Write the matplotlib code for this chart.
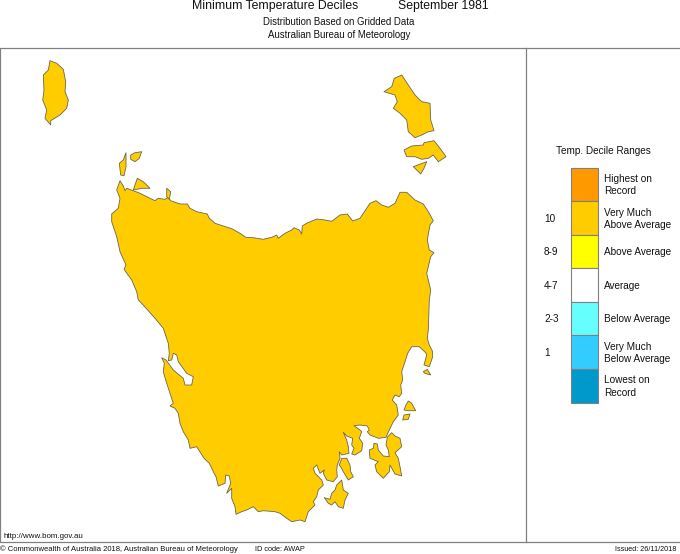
import matplotlib
matplotlib.use('Agg')
import matplotlib.pyplot as plt

plt.rcParams['font.family'] = ['Liberation Sans', 'DejaVu Sans']

# coastlines (map units = picture pixels)
tasmania = [(120,180.7),(123.3,186),(125,190.7),(126.7,188.3),(133.3,190.7),(140,193.3),(146.7,196.7),(155,200.7),
    (158.3,198.3),(165,199.3),(168.3,197.3),(170.7,200.7),(180,204),(187.3,204),(190,208.3),(196.7,211.7),(207.3,214),
    (209.3,218.3),(215,223.3),(223.3,226),(231.7,228.7),(240,233.3),(245.7,237.3),(253.3,237.7),(263.3,239.3),
    (271.7,237.3),(276.7,235),(278.3,238.3),(285,233.3),(291.7,230),(294,227.7),(299.3,230),(301.7,234),(302.3,226),
    (306.7,223.3),(316.7,219),(325,220),(331.7,221.3),(340,215),(347.3,214),(352.7,221),(360,218.3),(370,203.3),
    (376,200.7),(381.7,205),(388.3,207.3),(395,203.3),(400,192.3),(406.7,192.3),(415,200),(423.3,204),(428.3,211.7),
    (433.3,220.7),(430,225),(427.3,240),(429.3,250),(434,252.7),(430.7,256.7),(426.7,273.3),(430.7,290),(429.3,300),
    (428.3,330),(427.3,338.3),(429.3,345),(432.3,350.7),(432.7,356.7),(429.3,366.7),(424,365),(426.7,355),(425.7,352.7),
    (419.3,346.7),(411.7,346.7),(407.7,353.3),(405,361.7),(401.7,371.7),(402.7,380),(400.7,385),(401.7,393.3),
    (399.3,396.7),(395,395),(392.3,400),(396.7,405),(398.3,415),(393.3,421.7),(389.3,430),(386,437.3),(378.3,438.3),
    (370,435),(367.3,431.7),(369.3,430),(367.3,426),(360,425),(354,425.7),(360,430),(361.7,431.7),(359.3,438.3),
    (362.7,443.3),(361.7,450.7),(355,455),(351.7,454),(354,448.3),(351.7,445),(352.7,438.3),(346.7,436),(343.3,432.3),
    (346.7,440),(348.3,446.7),(349,453.3),(341.7,455),(339.3,451.7),(340,458.3),(337.3,465),(336.7,470),(337.3,476.7),
    (333.3,481.7),(326.7,480),(323.3,473.3),(324.3,470),(320,473.3),(316.7,465),(313.3,468.3),(315,473.3),(321.7,480),
    (323.3,485),(318.3,490),(316.7,496.7),(313.3,501.7),(315,505),(308.3,511.7),(305,521.7),(300,520),(291.7,521.7),
    (286.7,518.3),(280,513.3),(275,511.7),(263.3,510.7),(258.3,511.7),(253.3,506.7),(246.7,510),(241.7,511.7),
    (236,514.3),(235,506.7),(231.7,498.3),(231.7,488.3),(226.7,493.3),(230.7,483.3),(229.3,476),(225.7,475),(225,483.3),
    (218.3,486),(216,476.7),(213.3,471.7),(209.3,463.3),(204,458.3),(196.7,446.7),(190,448.3),(188.3,440),(183.3,431.7),
    (180,423.3),(178.3,413.3),(175,408.3),(170,406),(173.3,403.3),(170,393.3),(166.7,383.3),(163.3,371.7),(164.3,363.3),
    (161.7,357.7),(166,360),(173.3,370),(183.3,378.3),(185,385),(191.7,385),(193.3,376.7),(186.7,373.3),(178.3,361.7),
    (176.7,355),(173.3,353.3),(171.7,360),(168.3,360.7),(169.3,353.3),(168.3,343.3),(163.3,328.3),(155,318.3),
    (141.7,303.3),(138.3,300),(136.7,291.7),(131.7,280),(124,269.3),(126,265),(120,251.7),(116.7,236.7),(111.7,221.7),
    (111.7,214),(118.3,208.3),(120,198.3),(116.7,190)]
king = [(50,60.7),(56.7,63.3),(63.3,69.3),(65.7,81.7),(65,91.7),(68.3,100),(66.7,108.3),(60,115),(50.7,120.7),
    (50.7,125),(45,118.3),(46.7,110),(42.7,100),(44,90),(43.3,75),(48.3,70)]
flinders = [(401.7,75),(408.3,85),(415,95),(421.7,101.7),(430,103.3),(430.7,120),(434,130.7),(428.3,131.7),(421.7,135),
    (415,137.7),(408.3,131.7),(406.7,120),(400,113.3),(393.3,108.3),(397.3,101.7),(395,95),(384,91.7),(391.7,86.7),
    (394.3,78.3)]
cape_barren = [(404,150),(411.7,146),(423.3,145),(424,142.7),(434,140.7),(440,148.3),(446,156.7),(438.3,161.7),
    (433.3,155),(428.3,158.3),(421.7,159.3),(415,156.7),(406.7,156.7)]
clarke = [(413.3,166.7),(426.7,161.7),(424,168.3),(420.7,174),(416.7,170)]
hunter = [(119.3,163.3),(123.3,160),(126,152.7),(126,166.7),(124,175.7),(120.7,175)]
three_hummock = [(130.7,155),(135,152.7),(141.7,151.7),(139.3,158.3),(135,161.7),(130.7,159.3)]
robbins = [(133.3,190),(137.3,178.3),(143.3,181.7),(150,188.3),(141.7,188.3)]
perkins = [(166.7,188.3),(170.7,191.7),(169.3,199.3),(166.7,196.7)]
bruny_n = [(341.7,458.3),(346.7,458.3),(350,465),(350.7,471.7),(353.3,476.7),(348.3,480),(343.3,471.7),(341,467.3),(339.3,465)]
bruny_s = [(341.7,480),(343.3,490),(348.3,493.3),(345,500),(343.3,508.3),(338.3,506.7),(335,501.7),(331.7,505),
    (328.3,503.3),(324.3,497.7),(330,499.3),(331.7,493.3),(335,490),(336.7,485)]
tasman = [(391.7,432.7),(395,436),(400,438.3),(401.7,446.7),(395,452.7),(398.3,458.3),(400,466.7),(401.7,476),(395,474),
    (390,465),(389.3,471.7),(383.3,478.3),(376.7,471.7),(375,465),(378.3,461.7),(370,458.3),(369.3,450),(373.3,448.3),
    (374,443.3),(377.3,444),(378.3,450),(383.3,456),(389.3,456.7),(388.3,450),(386,445),(387.3,437.3)]
maria_n = [(408.3,401),(411.7,403.3),(415.7,410.7),(408.3,410.7),(404,410),(406,405)]
maria_s = [(404,415),(410,414),(408.3,419.3),(402.7,420)]
schouten = [(423.3,371.7),(427.3,369.3),(430.7,375),(425,373.3)]
land = [tasmania, king, flinders, cape_barren, clarke, hunter, three_hummock, robbins, perkins,
        bruny_n, bruny_s, tasman, maria_n, maria_s, schouten]

decile_colors = ['#ff9900', '#ffcc00', '#ffff00', '#ffffff', '#66ffff', '#33ccff', '#0099cc']
decile_ranges = ['', '10', '8-9', '4-7', '2-3', '1', '']
decile_labels = ['Highest on\nRecord', 'Very Much\nAbove Average', 'Above Average', 'Average',
                 'Below Average', 'Very Much\nBelow Average', 'Lowest on\nRecord']

fig = plt.figure(figsize=(6.8, 5.54), dpi=100)
ax = fig.add_axes([0, 0, 1, 1])
ax.set_xlim(0, 680)
ax.set_ylim(554, 0)
ax.axis('off')

# map frame and legend panel, no line on the far right
ax.plot([680, 0.3, 0.3, 680], [48, 48, 542, 542], color='#808080', lw=0.9)
ax.plot([526, 526], [48, 542], color='#808080', lw=0.9)

for coast in land:
    ax.fill([p[0] for p in coast], [p[1] for p in coast], facecolor=decile_colors[1],
            edgecolor='#6b6650', lw=0.6, joinstyle='round')

# legend
box_h = 33.55
for i, col in enumerate(decile_colors):
    mid = 167.7 + box_h * (i + 0.5)
    ax.bar(584.5, box_h, width=27, bottom=167.7 + box_h * i, color=col, edgecolor='#808080', lw=0.8)
    ax.text(604, mid + 0.7, decile_labels[i], fontsize=7.2, ha='left', va='center', linespacing=1.3, color='#111111')
    if decile_ranges[i]:
        ax.text(544, mid + 0.5, decile_ranges[i], fontsize=7.2, ha='left', va='center', color='#111111')
ax.text(603, 151, 'Temp. Decile Ranges', fontsize=7.2, ha='center', va='center', color='#111111')

# titles
ax.text(192, 5.5, 'Minimum Temperature Deciles', fontsize=8.8, ha='left', va='center', color='#111111')
ax.text(398, 5.5, 'September 1981', fontsize=8.8, ha='left', va='center', color='#111111')
ax.text(339, 22, 'Distribution Based on Gridded Data', fontsize=6.95, ha='center', va='center', color='#111111')
ax.text(339, 35, 'Australian Bureau of Meteorology', fontsize=6.95, ha='center', va='center', color='#111111')

# footer
ax.text(4, 537, 'http://www.bom.gov.au', fontsize=5.7, ha='left', va='center', color='#111111')
ax.text(0, 549.5, '© Commonwealth of Australia 2018, Australian Bureau of Meteorology', fontsize=5.5, ha='left', va='center', color='#111111')
ax.text(255, 549.5, 'ID code: AWAP', fontsize=5.3, ha='left', va='center', color='#111111')
ax.text(615, 549.5, 'Issued: 26/11/2018', fontsize=5.2, ha='left', va='center', color='#111111')

fig.savefig('out.png', dpi=100)
